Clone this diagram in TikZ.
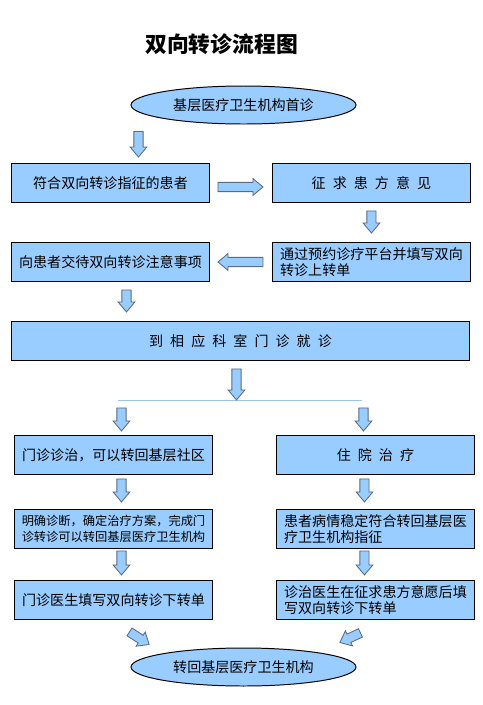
\documentclass[tikz,border=0pt]{standalone}
\usepackage{fontspec}
\setmainfont{Noto Sans CJK SC}
\usepackage{tikz}
\usetikzlibrary{calc,positioning,shapes.geometric}
\definecolor{fillblue}{HTML}{99CCFF}
\definecolor{arrowgray}{HTML}{5B6B80}
\definecolor{splitblue}{HTML}{9DC3E6}
\newcommand{\gap}{\hspace{0.5em}}

\begin{document}
\begin{tikzpicture}[
  box/.style={draw,fill=fillblue,line width=0.7pt,minimum height=9.75mm,minimum width=49.5mm,align=left,inner sep=1mm,font=\fontsize{10}{11.5}\selectfont},
  widebox/.style={box,minimum width=114.5mm},
  oval/.style={ellipse,draw,fill=fillblue,line width=0.7pt,minimum width=56.25mm,minimum height=9.5mm,inner sep=0pt,font=\fontsize{10}{11.5}\selectfont},
  fat/.style={draw=arrowgray,fill=fillblue,line width=0.6pt,
    to path={($(\tikztostart)!1.15mm!90:(\tikztotarget)$)
      -- ($($(\tikztotarget)!2.5mm!(\tikztostart)$)!1.15mm!90:(\tikztotarget)$)
      -- ($($(\tikztotarget)!2.5mm!(\tikztostart)$)!2.1mm!90:(\tikztotarget)$)
      -- (\tikztotarget)
      -- ($($(\tikztotarget)!2.5mm!(\tikztostart)$)!2.1mm!-90:(\tikztotarget)$)
      -- ($($(\tikztotarget)!2.5mm!(\tikztostart)$)!1.15mm!-90:(\tikztotarget)$)
      -- ($(\tikztostart)!1.15mm!-90:(\tikztotarget)$)
      -- cycle}}
]
\useasboundingbox (0,0) rectangle (120.75mm,-176.25mm);
\node[font=\fontsize{15.5}{18}\selectfont\bfseries] (title) at (55.4mm,-11mm) {双向转诊流程图};
\node[oval] (first) at (60.875mm,-26.25mm) {基层医疗卫生机构首诊};
\node[box,anchor=north west] (fits) at (2.75mm,-40.75mm) {符合双向转诊指征的患者};
\node[box,right=15.5mm of fits] (ask) {征\gap 求\gap 患\gap 方\gap 意\gap 见};
\node[box,below=9.75mm of ask] (book) {通过预约诊疗平台并填写双向\\转诊上转单};
\node[box,left=15.5mm of book] (tell) {向患者交待双向转诊注意事项};
\node[widebox,anchor=north west] (visit) at ([yshift=-9.75mm]tell.south west) {到\gap 相\gap 应\gap 科\gap 室\gap 门\gap 诊\gap 就\gap 诊};
\node[box,anchor=north west] (clinic) at ([xshift=0.75mm,yshift=-18.5mm]visit.south west) {门诊诊治，可以转回基层社区};
\node[box,right=15.75mm of clinic] (ward) {住\gap 院\gap 治\gap 疗};
\node[box,below=8.5mm of clinic,font=\fontsize{8.7}{11.5}\selectfont] (plan) {明确诊断，确定治疗方案，完成门\\诊转诊可以转回基层医疗卫生机构};
\node[box,below=8.5mm of ward] (stable) {患者病情稳定符合转回基层医\\疗卫生机构指征};
\node[box,below=7.75mm of plan] (down) {门诊医生填写双向转诊下转单};
\node[box,below=7.75mm of stable] (doctor) {诊治医生在征求患方意愿后填\\写双向转诊下转单};
\node[oval] (back) at (60.875mm,-166.75mm) {转回基层医疗卫生机构};
% split line under the clinic visit
\coordinate (splitL) at ($(visit.south)+(-30.5mm,-9.75mm)$);
\coordinate (splitR) at ($(visit.south)+(30.5mm,-9.75mm)$);
\draw[splitblue,line width=0.6pt] (splitL) -- (splitR);
% block arrows
\draw[fat] ($(first.south -| fits.north)+(7mm,-1.75mm)$) to ($(fits.north)+(7mm,1.5mm)$);
\draw[fat] ($(fits.east)+(2mm,-1mm)$) to ($(ask.west)+(-2.25mm,-1mm)$);
\draw[fat] ($(ask.south)+(0,-2mm)$) to ($(book.north)+(0,2.25mm)$);
\draw[fat] ($(book.west)+(-2.25mm,0)$) to ($(tell.east)+(2mm,0)$);
\draw[fat] ($(tell.south)+(4mm,-2mm)$) to ($(visit.north -| tell.south)+(4mm,2.25mm)$);
\draw[fat] ($(visit.south)+(-1mm,-2mm)$) to ($(visit.south)+(-1mm,-9.75mm)$);
\draw[fat] ($(splitL)+(0.75mm,-2mm)$) to ($(clinic.north -| splitL)+(0.75mm,1mm)$);
\draw[fat] ($(splitR)+(0.25mm,-2mm)$) to ($(ward.north -| splitR)+(0.25mm,1mm)$);
\draw[fat] ($(clinic.south)+(2mm,-1mm)$) to ($(plan.north)+(2mm,1.75mm)$);
\draw[fat] ($(ward.south)+(-2.75mm,-1mm)$) to ($(stable.north)+(-2.75mm,1.75mm)$);
\draw[fat] ($(plan.south)+(2mm,-0.5mm)$) to ($(down.north)+(2mm,1.25mm)$);
\draw[fat] ($(stable.south)+(-2.75mm,-0.5mm)$) to ($(doctor.north)+(-2.75mm,1.25mm)$);
\draw[fat] ($(down.south)+(4mm,-3mm)$) to ($(back.north)+(-23.6mm,0.75mm)$);
\draw[fat] ($(doctor.south)+(-3.75mm,-3.25mm)$) to ($(back.north)+(24.1mm,1.25mm)$);
\end{tikzpicture}
\end{document}
